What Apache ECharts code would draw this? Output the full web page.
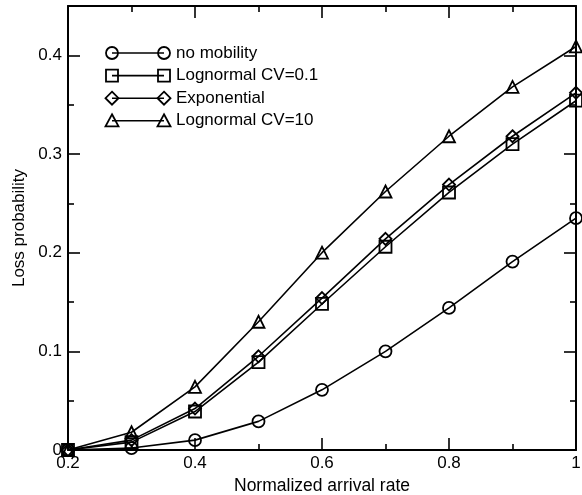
<!DOCTYPE html>
<html>
<head>
<meta charset="utf-8">
<script src="https://cdn.jsdelivr.net/npm/echarts@6/dist/echarts.min.js"></script>
<style>
  html, body { margin: 0; padding: 0; background: #fff; }
  #chart { width: 582px; height: 495px; }
</style>
</head>
<body>
<div id="chart"></div>
<script>
// arrival rates on the x axis
var arrivalRates = [0.2, 0.3, 0.4, 0.5, 0.6, 0.7, 0.8, 0.9, 1.0];

// loss probability per curve
var noMobility  = [0, 0.002, 0.010, 0.029, 0.061, 0.100, 0.144, 0.191, 0.235];
var lognormal01 = [0, 0.008, 0.039, 0.089, 0.148, 0.206, 0.261, 0.310, 0.354];
var exponential = [0, 0.010, 0.042, 0.095, 0.154, 0.214, 0.269, 0.318, 0.362];
var lognormal10 = [0, 0.018, 0.064, 0.130, 0.200, 0.262, 0.318, 0.368, 0.409];

var seriesNames = ['no mobility', 'Lognormal CV=0.1', 'Exponential', 'Lognormal CV=10'];
var seriesData = [noMobility, lognormal01, exponential, lognormal10];
var seriesSymbols = ['circle', 'rect', 'diamond', 'triangle'];

var FONT = "'Liberation Sans', Arial, sans-serif";

function pairs(ys) {
    return arrivalRates.map(function (x, i) { return [x, ys[i]]; });
}

var chart = echarts.init(document.getElementById('chart'));

var series = seriesNames.map(function (name, i) {
    return {
        name: name,
        type: 'line',
        data: pairs(seriesData[i]),
        symbol: seriesSymbols[i],
        symbolSize: 12,
        showAllSymbol: true,
        clip: false,
        lineStyle: { color: '#000', width: 1.6 },
        itemStyle: { color: 'rgba(0,0,0,0)', borderColor: '#000', borderWidth: 1.8 },
        emphasis: { disabled: true },
        z: 3
    };
});

// hand made legend: line with a symbol on each end
function legendSymbol(kind, cx, cy) {
    var s = { stroke: '#000', fill: 'none', lineWidth: 1.8 };
    if (kind === 'circle') {
        return { type: 'circle', shape: { cx: cx, cy: cy, r: 6 }, style: s };
    }
    if (kind === 'rect') {
        return { type: 'rect', shape: { x: cx - 6, y: cy - 6, width: 12, height: 12 }, style: s };
    }
    if (kind === 'diamond') {
        return { type: 'polygon', shape: { points: [[cx, cy - 6.5], [cx + 6.5, cy], [cx, cy + 6.5], [cx - 6.5, cy]] }, style: s };
    }
    return { type: 'polygon', shape: { points: [[cx, cy - 6.5], [cx + 6.5, cy + 5.5], [cx - 6.5, cy + 5.5]] }, style: s };
}

var legendItems = [];
seriesNames.forEach(function (name, i) {
    var y = 53 + i * 22.6;
    var x1 = 112, x2 = 164;
    legendItems.push({ type: 'line', shape: { x1: x1, y1: y, x2: x2, y2: y }, style: { stroke: '#000', lineWidth: 1.6 } });
    legendItems.push(legendSymbol(seriesSymbols[i], x1, y));
    legendItems.push(legendSymbol(seriesSymbols[i], x2, y));
    legendItems.push({
        type: 'text', x: 176, y: y,
        style: { text: name, font: '17px ' + FONT, fill: '#000', textVerticalAlign: 'middle' }
    });
});

var axisCommon = {
    axisLine: { show: true, onZero: false, lineStyle: { color: '#000', width: 2 } },
    axisTick: { show: true, inside: true, length: 12, lineStyle: { color: '#000', width: 1.6 } },
    minorTick: { show: true, splitNumber: 2, length: 6, lineStyle: { color: '#000', width: 1.6 } },
    splitLine: { show: false },
    minorSplitLine: { show: false }
};

var option = {
    animation: false,
    backgroundColor: '#fff',
    grid: { left: 68, right: 6, top: 6, bottom: 45, outerBoundsMode: 'none', containLabel: false },
    xAxis: [
        Object.assign({
            type: 'value', min: 0.2, max: 1, interval: 0.2, position: 'bottom',
            name: 'Normalized arrival rate', nameLocation: 'middle', nameGap: 22,
            nameTextStyle: { fontFamily: FONT, fontSize: 17.5, color: '#000' },
            axisLabel: {
                fontFamily: FONT, fontSize: 17, color: '#000', margin: 5,
                formatter: function (v) { return v === 1 ? '1' : v.toFixed(1); }
            }
        }, axisCommon),
        Object.assign({
            type: 'value', min: 0.2, max: 1, interval: 0.2, position: 'top',
            axisLabel: { show: false }
        }, axisCommon)
    ],
    yAxis: [
        Object.assign({
            type: 'value', min: 0, max: 0.45, interval: 0.1, position: 'left',
            name: 'Loss probability', nameLocation: 'middle', nameGap: 32,
            nameTextStyle: { fontFamily: FONT, fontSize: 17, color: '#000' },
            axisLabel: {
                fontFamily: FONT, fontSize: 17, color: '#000', margin: 6,
                showMaxLabel: false,
                formatter: function (v) { return v === 0 ? '0' : v.toFixed(1); }
            }
        }, axisCommon),
        Object.assign({
            type: 'value', min: 0, max: 0.45, interval: 0.1, position: 'right',
            axisLabel: { show: false }
        }, axisCommon)
    ],
    series: series,
    graphic: legendItems
};

chart.setOption(option);
</script>
</body>
</html>
